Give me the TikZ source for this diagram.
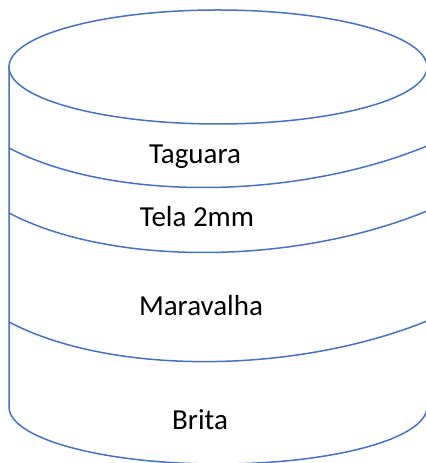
\documentclass[tikz,border=0pt]{standalone}
\usepackage{fontspec}
\setmainfont{Carlito}
\definecolor{layerblue}{HTML}{4472C4}
\begin{document}
\begin{tikzpicture}[x=1bp,y=1bp,
  outline/.style={draw=layerblue, line width=1.5bp},
  layerlabel/.style={anchor=base, inner sep=0pt, font=\fontsize{29bp}{34bp}\selectfont}]
  \useasboundingbox (0,0) rectangle (425,463);
  % cylinder body
  \coordinate (topL) at (9,396);
  \coordinate (botL) at (9,56);
  \coordinate (botR) at (427,56);
  \coordinate (topR) at (427,396);
  \draw[outline] (218,396) ellipse [x radius=209, y radius=57];
  \draw[outline] (topL) -- (botL)
    arc[start angle=180, end angle=360, x radius=209, y radius=57]
    -- (topR);
  % layer boundaries
  \draw[outline] (9,315) .. controls (110,262) and (293,262) .. (427,317);
  \draw[outline] (9,250) .. controls (110,197) and (293,197) .. (427,252);
  \draw[outline] (9,141) .. controls (110,88) and (293,88) .. (427,142);
  % layer names
  \node[layerlabel] (taguara) at (195,299) {Taguara};
  \node[layerlabel] (tela) at (197,236) {Tela 2mm};
  \node[layerlabel] (maravalha) at (201,147) {Maravalha};
  \node[layerlabel] (brita) at (200,33) {Brita};
\end{tikzpicture}
\end{document}
